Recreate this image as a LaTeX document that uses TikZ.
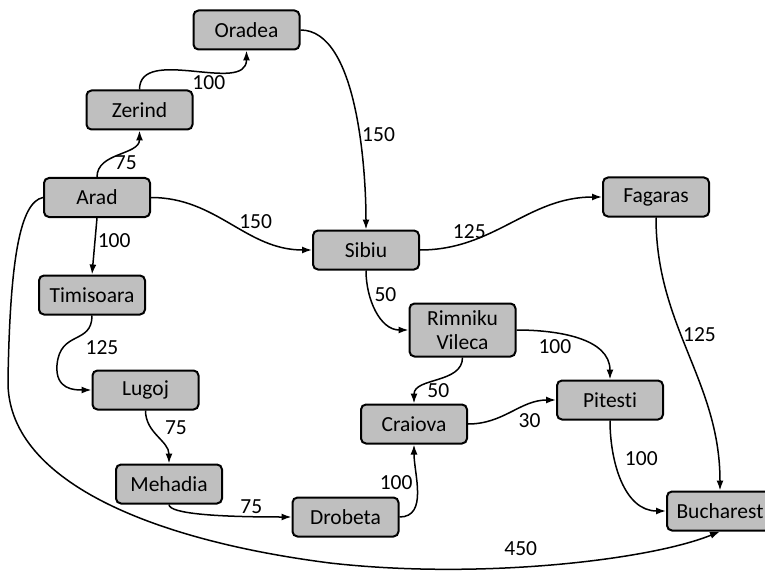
\documentclass[tikz,border=0pt]{standalone}
\usepackage{fontspec}
\setmainfont{Carlito}[Ligatures={NoCommon,NoContextual}]
\usepackage{xcolor}
\usetikzlibrary{arrows.meta}
\definecolor{cityfill}{HTML}{BFBFBF}

\begin{document}
\begin{tikzpicture}[x=1pt, y=1pt]

    % Define style for different elements
    \tikzstyle{city} = [rectangle, rounded corners=5pt, minimum width=106pt, minimum height=39pt, text centered, draw=black, line width=2pt, fill=cityfill, font=\fontsize{21.5}{24}\selectfont, inner sep=2pt]
    \tikzstyle{dist} = [font=\fontsize{21.5}{24}\selectfont, inner sep=2pt]
    \tikzstyle{road} = [line width=1.5pt, -{Latex[length=10pt, width=7pt]}]

    \useasboundingbox (0,0) rectangle (765,-572);

    % Place nodes
    \node (oradea) [city] at (246.5,-30) {Oradea};
    \node (zerind) [city] at (139.5,-110) {Zerind};
    \node (arad) [city] at (97,-197.5) {Arad};
    \node (sibiu) [city] at (366,-250) {Sibiu};
    \node (fagaras) [city] at (656,-197) {Fagaras};
    \node (rimniku) [city, minimum height=53pt, align=center] at (462.5,-330) {Rimniku\\Vileca};
    \node (pitesti) [city] at (610,-400) {Pitesti};
    \node (craiova) [city] at (414,-424) {Craiova};
    \node (timisoara) [city] at (92,-295) {Timisoara};
    \node (lugoj) [city] at (145.5,-390) {Lugoj};
    \node (mehadia) [city] at (169,-484) {Mehadia};
    \node (drobeta) [city] at (345.5,-517) {Drobeta};
    \node (bucharest) [city] at (720,-511) {Bucharest};

    % Draw arrows
    \draw [road] (arad.north) to[out=90, in=-90] node[dist, pos=0.3, anchor=west, xshift=6pt, yshift=-2pt] {75} (zerind.south);
    \draw [road] (zerind.north) to[out=90, in=-90] node[dist, pos=0.6, anchor=north, yshift=-2pt] {100} (oradea.south);
    \draw [road] (oradea.east) to[out=0, in=90, looseness=0.7] node[dist, pos=0.6, anchor=west] {150} (sibiu.north);
    \draw [road] (arad.east) to[out=0, in=180] node[dist, pos=0.5, anchor=west, xshift=5pt, yshift=2pt] {150} (sibiu.west);
    \draw [road] (arad.south) -- node[dist, pos=0.4, anchor=west] {100} (timisoara.north);
    \draw [road] (sibiu.east) to[out=0, in=180] node[dist, pos=0.25, anchor=south] {125} (fagaras.west);
    \draw [road] (sibiu.south) to[out=-90, in=180] node[dist, pos=0.3, anchor=west, xshift=2pt, yshift=1pt] {50} (rimniku.west);
    \draw [road] (fagaras.south) to[out=-90, in=90] node[dist, pos=0.42, anchor=west] {125} (bucharest.north);
    \draw [road] (rimniku.east) to[out=0, in=90] node[dist, pos=0.3, anchor=north, yshift=-4pt] {100} (pitesti.north);
    \draw [road] (rimniku.south) to[out=-90, in=90] node[dist, pos=0.5, anchor=north] {50} (craiova.north);
    \draw [road] (craiova.east) to[out=0, in=180] node[dist, pos=0.55, anchor=north west, yshift=-1pt] {30} (pitesti.west);
    \draw [road] (pitesti.south) to[out=-90, in=180] node[dist, pos=0.3, anchor=west, xshift=8pt] {100} (bucharest.west);
    \draw [road] (drobeta.east) to[out=0, in=-90] node[dist, pos=0.6, anchor=east, xshift=-2pt] {100} (craiova.south);
    \draw [road] (timisoara.south) .. controls (92,-345) and (60,-330) .. node[dist, pos=0.35, anchor=north west, yshift=-4pt] {125} (57,-365) .. controls (55,-390) and (75,-390) .. (lugoj.west);
    \draw [road] (lugoj.south) to[out=-90, in=90] node[dist, pos=0.5, anchor=south west, xshift=5pt] {75} (mehadia.north);
    \draw [road] (mehadia.south) .. controls (169,-514) and (220,-517) .. node[dist, pos=0.8, anchor=south] {75} (drobeta.west);
    \draw [road] (arad.west) .. controls (20,-202) and (10,-260) .. (8,-380) .. controls (6,-480) and (150,-540) .. (330,-563) .. controls (480,-580) and (650,-560) .. node[dist, pos=0.42, anchor=south, yshift=9pt] {450} (bucharest.south);

\end{tikzpicture}
\end{document}
